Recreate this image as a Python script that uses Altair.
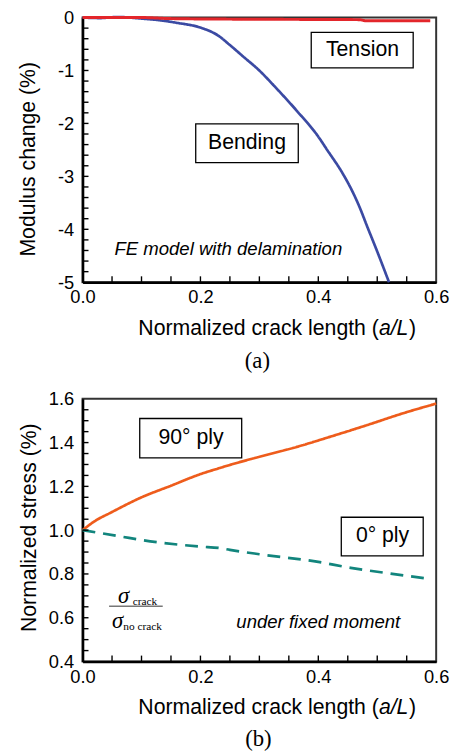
import altair as alt
import pandas as pd

# ---------------- data ----------------
bend_a = [0.0, 0.03, 0.06, 0.10, 0.13, 0.16, 0.20, 0.23, 0.25, 0.275, 0.297, 0.33, 0.365, 0.40, 0.415, 0.44, 0.455, 0.47, 0.482, 0.50, 0.52]
bend_v = [0.0, -0.01, 0.01, -0.02, -0.05, -0.10, -0.19, -0.34, -0.52, -0.76, -0.97, -1.35, -1.78, -2.25, -2.50, -2.92, -3.22, -3.58, -3.92, -4.42, -5.0]
tens_a = [0.0, 0.10, 0.15, 0.25, 0.47, 0.48, 0.59]
tens_v = [0.0, 0.0, -0.02, -0.03, -0.04, -0.06, -0.06]

ply90_a = [0.0, 0.02, 0.05, 0.10, 0.15, 0.20, 0.233, 0.25, 0.30, 0.367, 0.417, 0.483, 0.544, 0.60]
ply90_v = [1.0, 1.04, 1.083, 1.15, 1.203, 1.256, 1.284, 1.298, 1.335, 1.383, 1.424, 1.48, 1.534, 1.578]
ply0_a = [0.0, 0.067, 0.10, 0.20, 0.233, 0.25, 0.30, 0.40, 0.455, 0.50, 0.59]
ply0_v = [1.0, 0.97, 0.955, 0.925, 0.918, 0.91, 0.89, 0.855, 0.828, 0.81, 0.777]

x_major = [0.0, 0.2, 0.4, 0.6]
x_minor = [round(0.05 * i, 2) for i in range(1, 12)]
ytop_major = [0, -1, -2, -3, -4, -5]
ytop_minor = [round(-0.2 * i, 1) for i in range(1, 25)]
ybot_major = [0.4, 0.6, 0.8, 1.0, 1.2, 1.4, 1.6]
ybot_minor = [round(0.4 + 0.05 * i, 2) for i in range(1, 24)]

SANS = "Liberation Sans"
SERIF = "Liberation Serif"
TXT = 21.5
W = 358
TICK = 6  # inward tick length, px

top_boxes = pd.DataFrame({"x0": [0.388, 0.192], "x1": [0.561, 0.366],
                          "y0": [-0.28, -2.01], "y1": [-0.95, -2.74],
                          "tx": [0.475, 0.279], "ty": [-0.615, -2.375],
                          "label": ["Tension", "Bending"]})
bot_boxes = pd.DataFrame({"x0": [0.097, 0.439], "x1": [0.270, 0.578],
                          "y0": [1.51, 1.059], "y1": [1.33, 0.883],
                          "tx": [0.184, 0.509], "ty": [1.42, 0.971],
                          "label": ["90° ply", "0° ply"]})


def panel(lines, boxes, ydom, yvals, yminor, ylabel_expr, ytitle, title_x, title_y,
          extras, rules, xt_right, xt_y, lab, lab_x, lab_y, w, h):
    xs = alt.Scale(domain=[0, 0.6], nice=False, zero=False)
    ys = alt.Scale(domain=ydom, nice=False, zero=False)
    xa = alt.Axis(orient="bottom", values=x_major, format=".1f", labelFontSize=18.5, labelFont=SANS,
                  labelColor="black", labelPadding=6, ticks=False, domainColor="black",
                  domainWidth=2.5, grid=False, title=None, labelFlush=False)
    ya = alt.Axis(orient="left", values=yvals, labelExpr=ylabel_expr, labelFontSize=18.5, labelFont=SANS,
                  labelColor="black", labelPadding=9, ticks=False, domainColor="black",
                  domainWidth=2.5, grid=False, title=ytitle, titleFont=SANS, titleFontSize=21.5,
                  titleFontWeight="normal", titleColor="black", titleX=title_x, titleY=title_y,
                  titleBaseline="middle", titleAngle=-90)
    X = lambda f: alt.X(f, scale=xs, axis=xa)
    Y = lambda f: alt.Y(f, scale=ys, axis=ya)
    layers = []
    for a, v, color, width, dash in lines:
        df = pd.DataFrame({"a": a, "v": v})
        layers.append(alt.Chart(df).mark_line(color=color, strokeWidth=width, strokeDash=dash,
                                              interpolate="monotone").encode(x=X("a:Q"), y=Y("v:Q")))
    # boxes
    layers.append(alt.Chart(boxes).mark_rect(fill="white", stroke="black", strokeWidth=1.3).encode(
        x=X("x0:Q"), x2="x1:Q", y=Y("y0:Q"), y2="y1:Q"))
    layers.append(alt.Chart(boxes).mark_text(font=SANS, fontSize=TXT, color="black", align="center",
                                             baseline="middle").encode(
        x=X("tx:Q"), y=Y("ty:Q"), text="label:N"))
    for df, props in extras:
        layers.append(alt.Chart(df).mark_text(**props).encode(x=X("x:Q"), y=Y("y:Q"), text="t:N"))
    for df, props in rules:
        layers.append(alt.Chart(df).mark_rule(**props).encode(x=X("x:Q"), x2="x2:Q", y=Y("y:Q")))
    # inward minor ticks along the left and bottom edges
    dx = 0.6 * TICK / w
    dy = (ydom[1] - ydom[0]) * TICK / h
    xt = pd.DataFrame({"tv": x_minor})
    yt = pd.DataFrame({"tv": yminor})
    layers.append(alt.Chart(xt).transform_calculate(ya0=str(ydom[0]), ya1=str(ydom[0] + dy)).mark_rule(
        color="black", strokeWidth=1.4).encode(x=X("tv:Q"), y=Y("ya0:Q"), y2="ya1:Q"))
    layers.append(alt.Chart(yt).transform_calculate(xa0="0", xa1=str(dx)).mark_rule(
        color="black", strokeWidth=1.4).encode(y=Y("tv:Q"), x=X("xa0:Q"), x2="xa1:Q"))
    # x-axis title with italic a/L and panel label
    one = pd.DataFrame({"k": [0]})
    layers.append(alt.Chart(one).mark_text(text="Normalized crack length (", font=SANS, fontSize=TXT,
                                           align="right", baseline="middle", color="black").encode(
        x=alt.value(xt_right), y=alt.value(xt_y)))
    layers.append(alt.Chart(one).mark_text(text="a/L", font=SANS, fontSize=TXT, fontStyle="italic",
                                           align="left", baseline="middle", color="black").encode(
        x=alt.value(xt_right), y=alt.value(xt_y)))
    layers.append(alt.Chart(one).mark_text(text=")", font=SANS, fontSize=TXT,
                                           align="left", baseline="middle", color="black").encode(
        x=alt.value(xt_right + 1.39 * TXT + 0.5), y=alt.value(xt_y)))
    layers.append(alt.Chart(one).mark_text(text=lab, font=SERIF, fontSize=23,
                                           align="center", baseline="middle", color="black").encode(
        x=alt.value(lab_x), y=alt.value(lab_y)))
    return alt.layer(*layers).properties(width=w, height=h)


fe_txt = pd.DataFrame({"x": [0.054], "y": [-4.38], "t": ["FE model with delamination"]})
top = panel(
    [(bend_a, bend_v, "#3b4aa3", 2.7, [1, 0]), (tens_a, tens_v, "#e3262b", 3.0, [1, 0])],
    top_boxes, [-5, 0], ytop_major, ytop_minor, "datum.value", "Modulus change (%)", -55, 143,
    [(fe_txt, dict(font=SANS, fontSize=18.8, fontStyle="italic", align="left", baseline="middle", color="black"))],
    [],
    300, 315, "(a)", 177, 348, W, 268)

fm_txt = pd.DataFrame({"x": [0.40], "y": [0.581], "t": ["under fixed moment"]})
sig = pd.DataFrame({"x": [0.0697, 0.0595], "y": [0.699, 0.585], "t": ["σ", "σ"]})
sub = pd.DataFrame({"x": [0.085, 0.069], "y": [0.671, 0.558], "t": ["crack", "no crack"]})
frac_line = pd.DataFrame({"x": [0.045], "x2": [0.136], "y": [0.653]})
bot = panel(
    [(ply90_a, ply90_v, "#ee5c1c", 2.7, [1, 0]), (ply0_a, ply0_v, "#12857d", 2.7, [13, 8])],
    bot_boxes, [0.4, 1.6], ybot_major, ybot_minor, "format(datum.value, '.1f')", "Normalized stress (%)", -54, 130,
    [(fm_txt, dict(font=SANS, fontSize=18.8, fontStyle="italic", align="center", baseline="middle", color="black")),
     (sig, dict(font=SERIF, fontSize=23, fontStyle="italic", align="center", baseline="middle", color="black")),
     (sub, dict(font=SERIF, fontSize=11.5, align="left", baseline="middle", color="black"))],
    [(frac_line, dict(color="#777777", strokeWidth=1.5))],
    300, 313, "(b)", 178, 345, W, 266)

chart = alt.vconcat(top, bot, spacing=15).configure_view(stroke="#333333", strokeWidth=2).properties(
    padding={"left": 8.5, "top": -5, "right": 0, "bottom": 0}, background="white")

chart.save("out.html", embed_options={"renderer": "svg", "actions": False})
